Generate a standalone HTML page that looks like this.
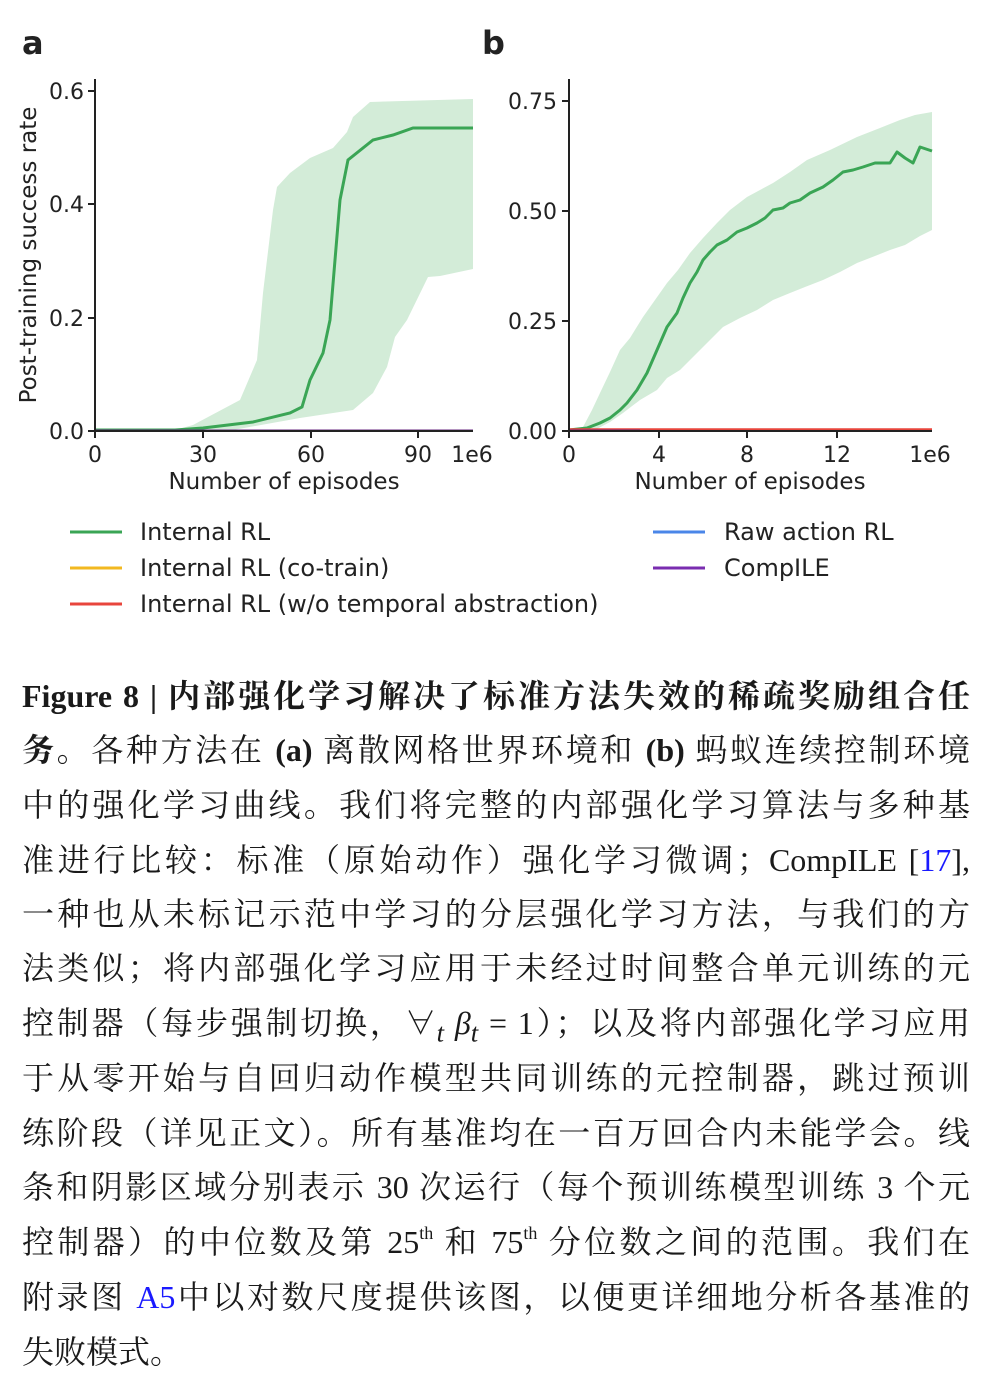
<!DOCTYPE html>
<html><head><meta charset="utf-8"><style>
html,body{margin:0;padding:0;background:#fff;}
body{width:990px;height:1392px;position:relative;overflow:hidden;}
svg{position:absolute;left:0;top:0;}
.cap{position:absolute;left:22px;width:948px;font-family:"Liberation Serif","Noto Serif CJK SC",serif;font-size:32px;color:#1a1a1a;text-align:justify;text-align-last:justify;white-space:nowrap;line-height:40px;}
.b{font-weight:bold;}
.l{color:#1a1aff;}
sup{font-size:18px;vertical-align:14px;line-height:0;}
</style></head><body>
<svg width="990" height="660" font-family="DejaVu Sans, sans-serif" fill="#222">
<text x="22" y="54" font-size="32" font-weight="bold">a</text>
<text x="482" y="54" font-size="32" font-weight="bold">b</text>
<!-- chart a -->
<path d="M175,430 L193,425 L240,400 L257,360 L263,293 L273,210 L277,187 L290,173 L310,158 L333,148 L347,132 L353,117 L370,102 L473,99 L473,269 L440,276 L428,277 L407,320 L395,337 L387,367 L373,393 L353,410 L300,418 L233,430 Z" fill="#d3ecd8"/>
<path d="M95,430 L175,430 L203,428 L253,422 L290,413 L302,407 L310,380 L323,353 L330,320 L335,260 L340,200 L348,160 L373,140 L393,135 L413,128 L473,128" fill="none" stroke="#3aa555" stroke-width="3"/>
<line x1="95" y1="430.5" x2="473" y2="430.5" stroke="#6a2a80" stroke-width="2"/>
<g stroke="#222" stroke-width="2"><line x1="95" y1="79" x2="95" y2="432"/><line x1="94" y1="431" x2="473" y2="431"/>
<line x1="88" y1="431" x2="95" y2="431"/><line x1="88" y1="318" x2="95" y2="318"/><line x1="88" y1="204" x2="95" y2="204"/><line x1="88" y1="91" x2="95" y2="91"/>
<line x1="95" y1="431" x2="95" y2="438"/><line x1="203" y1="431" x2="203" y2="438"/><line x1="311" y1="431" x2="311" y2="438"/><line x1="418" y1="431" x2="418" y2="438"/></g>
<g font-size="22" text-anchor="end"><text x="84" y="439">0.0</text><text x="84" y="326">0.2</text><text x="84" y="212">0.4</text><text x="84" y="99">0.6</text></g>
<g font-size="22" text-anchor="middle"><text x="95" y="462">0</text><text x="203" y="462">30</text><text x="311" y="462">60</text><text x="418" y="462">90</text><text x="472" y="462">1e6</text>
<text x="284" y="489" font-size="23">Number of episodes</text>
<text transform="translate(36,255) rotate(-90)" font-size="23">Post-training success rate</text></g>
<!-- chart b -->
<path d="M575,430 L583,427 L592,410 L600,393 L610,372 L620,350 L630,338 L643,317 L655,300 L667,283 L678,270 L690,253 L703,238 L717,223 L730,210 L747,197 L760,190 L773,183 L790,172 L807,160 L830,150 L857,137 L880,128 L900,120 L915,115 L932,112 L932,230 L920,236 L905,245 L890,250 L875,256 L857,263 L840,272 L823,280 L805,287 L790,293 L773,300 L757,310 L740,318 L723,327 L710,340 L697,353 L680,370 L667,378 L657,390 L640,400 L623,413 L610,422 L595,430 Z" fill="#d3ecd8"/>
<path d="M569,430 L587,428 L600,423 L610,418 L620,410 L627,403 L637,390 L647,373 L657,350 L667,327 L677,313 L683,298 L690,283 L697,272 L703,260 L710,252 L717,245 L727,240 L737,232 L747,228 L757,223 L765,218 L773,210 L783,208 L790,203 L800,200 L810,193 L823,187 L833,180 L843,172 L853,170 L863,167 L875,163 L890,163 L897,152 L905,158 L913,163 L920,147 L932,151" fill="none" stroke="#3aa555" stroke-width="3" stroke-linejoin="round"/>
<line x1="569" y1="429.5" x2="932" y2="429.5" stroke="#e8453c" stroke-width="2.5"/>
<line x1="569" y1="430.5" x2="640" y2="430.5" stroke="#6a2a80" stroke-width="2"/>
<g stroke="#222" stroke-width="2"><line x1="569" y1="79" x2="569" y2="432"/><line x1="568" y1="431" x2="932" y2="431"/>
<line x1="562" y1="431" x2="569" y2="431"/><line x1="562" y1="321" x2="569" y2="321"/><line x1="562" y1="211" x2="569" y2="211"/><line x1="562" y1="101" x2="569" y2="101"/>
<line x1="569" y1="431" x2="569" y2="438"/><line x1="659" y1="431" x2="659" y2="438"/><line x1="747" y1="431" x2="747" y2="438"/><line x1="837" y1="431" x2="837" y2="438"/></g>
<g font-size="22" text-anchor="end"><text x="557" y="439">0.00</text><text x="557" y="329">0.25</text><text x="557" y="219">0.50</text><text x="557" y="109">0.75</text></g>
<g font-size="22" text-anchor="middle"><text x="569" y="462">0</text><text x="659" y="462">4</text><text x="747" y="462">8</text><text x="837" y="462">12</text><text x="930" y="462">1e6</text>
<text x="750" y="489" font-size="23">Number of episodes</text></g>
<!-- legend -->
<g stroke-width="3"><line x1="70" y1="532" x2="122" y2="532" stroke="#3aa555"/><line x1="70" y1="568" x2="122" y2="568" stroke="#f2b820"/><line x1="70" y1="604" x2="122" y2="604" stroke="#e8453c"/>
<line x1="653" y1="532" x2="705" y2="532" stroke="#4a86e8"/><line x1="653" y1="568" x2="705" y2="568" stroke="#7a2db0"/></g>
<g font-size="24"><text x="140" y="540">Internal RL</text><text x="140" y="576">Internal RL (co-train)</text><text x="140" y="612">Internal RL (w/o temporal abstraction)</text>
<text x="724" y="540">Raw action RL</text><text x="724" y="576">CompILE</text></g>
</svg>
<div class="cap b" style="top:676px">Figure 8 | 内部强化学习解决了标准方法失效的稀疏奖励组合任</div>
<div class="cap" style="top:730px"><span class="b">务</span>。各种方法在 <span class="b">(a)</span> 离散网格世界环境和 <span class="b">(b)</span> 蚂蚁连续控制环境</div>
<div class="cap" style="top:785px">中的强化学习曲线。我们将完整的内部强化学习算法与多种基</div>
<div class="cap" style="top:840px">准进行比较：标准（原始动作）强化学习微调；CompILE [<span class="l">17</span>],</div>
<div class="cap" style="top:894px">一种也从未标记示范中学习的分层强化学习方法，与我们的方</div>
<div class="cap" style="top:948px">法类似；将内部强化学习应用于未经过时间整合单元训练的元</div>
<div class="cap" style="top:1003px">控制器（每步强制切换，∀<sub><i>t</i></sub> <i>β<sub>t</sub></i> = 1）；以及将内部强化学习应用</div>
<div class="cap" style="top:1058px">于从零开始与自回归动作模型共同训练的元控制器，跳过预训</div>
<div class="cap" style="top:1113px">练阶段（详见正文）。所有基准均在一百万回合内未能学会。线</div>
<div class="cap" style="top:1167px">条和阴影区域分别表示 30 次运行（每个预训练模型训练 3 个元</div>
<div class="cap" style="top:1222px">控制器）的中位数及第 25<sup>th</sup> 和 75<sup>th</sup> 分位数之间的范围。我们在</div>
<div class="cap" style="top:1277px">附录图 <span class="l">A5</span>中以对数尺度提供该图，以便更详细地分析各基准的</div>
<div class="cap" style="top:1332px;text-align-last:left">失败模式。</div>
</body></html>
